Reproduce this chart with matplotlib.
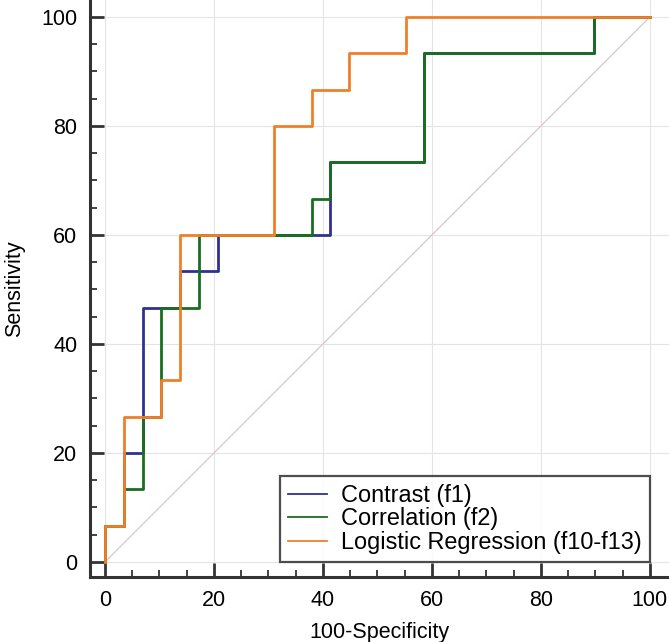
import matplotlib
matplotlib.use("Agg")
import matplotlib.pyplot as plt
from matplotlib.ticker import MultipleLocator

# ROC vertices (100-Specificity, Sensitivity), drawn as steps
contrast_x = [0, 3.45, 6.90, 13.79, 20.69, 41.38, 58.62, 89.66, 100]
contrast_y = [0, 6.67, 20.00, 46.67, 53.33, 60.00, 73.33, 93.33, 100]

correlation_x = [0, 3.45, 6.90, 10.34, 17.24, 37.93, 41.38, 58.62, 89.66, 100]
correlation_y = [0, 6.67, 13.33, 26.67, 46.67, 60.00, 66.67, 73.33, 93.33, 100]

logreg_x = [0, 3.45, 10.34, 13.79, 31.03, 37.93, 44.83, 55.17, 100]
logreg_y = [0, 6.67, 26.67, 33.33, 60.00, 80.00, 86.67, 93.33, 100]

labels = ["Contrast (f1)", "Correlation (f2)", "Logistic Regression (f10-f13)"]
colors = ["#2e3192", "#1a6e1f", "#f07f2a"]

plt.rcParams["font.family"] = ["Liberation Sans", "DejaVu Sans"]

fig = plt.figure(figsize=(6.69, 6.42), dpi=100)
ax = fig.add_axes([90 / 669, 65 / 642, 579 / 669, 577 / 642])

ax.plot([0, 100], [0, 100], color="#dcc6c6", linewidth=0.9, zorder=1)

series = [(contrast_x, contrast_y), (correlation_x, correlation_y), (logreg_x, logreg_y)]
for (xs, ys), lab, col in zip(series, labels, colors):
    ax.plot(xs, ys, drawstyle="steps-pre", color=col, linewidth=2.0,
            label=lab, zorder=3)

ax.set_xlim(-2.75, 103.5)
ax.set_ylim(-2.75, 103.1)

ax.xaxis.set_major_locator(MultipleLocator(20))
ax.yaxis.set_major_locator(MultipleLocator(20))
ax.xaxis.set_minor_locator(MultipleLocator(5))
ax.yaxis.set_minor_locator(MultipleLocator(5))

ax.grid(True, which="major", color="#e4e4e4", linewidth=0.8, zorder=0)
ax.set_axisbelow(True)

for side in ["top", "right"]:
    ax.spines[side].set_visible(False)
for side in ["left", "bottom"]:
    ax.spines[side].set_linewidth(2.2)
    ax.spines[side].set_color("#333333")

ax.tick_params(which="major", direction="in", length=10, width=2,
               color="#333333", labelsize=15.5, pad=9)
ax.tick_params(which="minor", direction="in", length=5, width=1.3,
               color="#333333")

ax.set_xlabel("100-Specificity", fontsize=15.5, labelpad=8)
ax.set_ylabel("Sensitivity", fontsize=15.5, labelpad=12)

leg = ax.legend(loc="lower right", bbox_to_anchor=(0.967, 0.026),
                fontsize=16.9, frameon=True, fancybox=False,
                handlelength=1.66, handletextpad=0.6, labelspacing=0.02,
                borderpad=0.35, borderaxespad=0)
leg.get_frame().set_edgecolor("#222222")
leg.get_frame().set_linewidth(1.6)
for line in leg.get_lines():
    line.set_linewidth(1.3)

fig.savefig("out.png", dpi=100)
